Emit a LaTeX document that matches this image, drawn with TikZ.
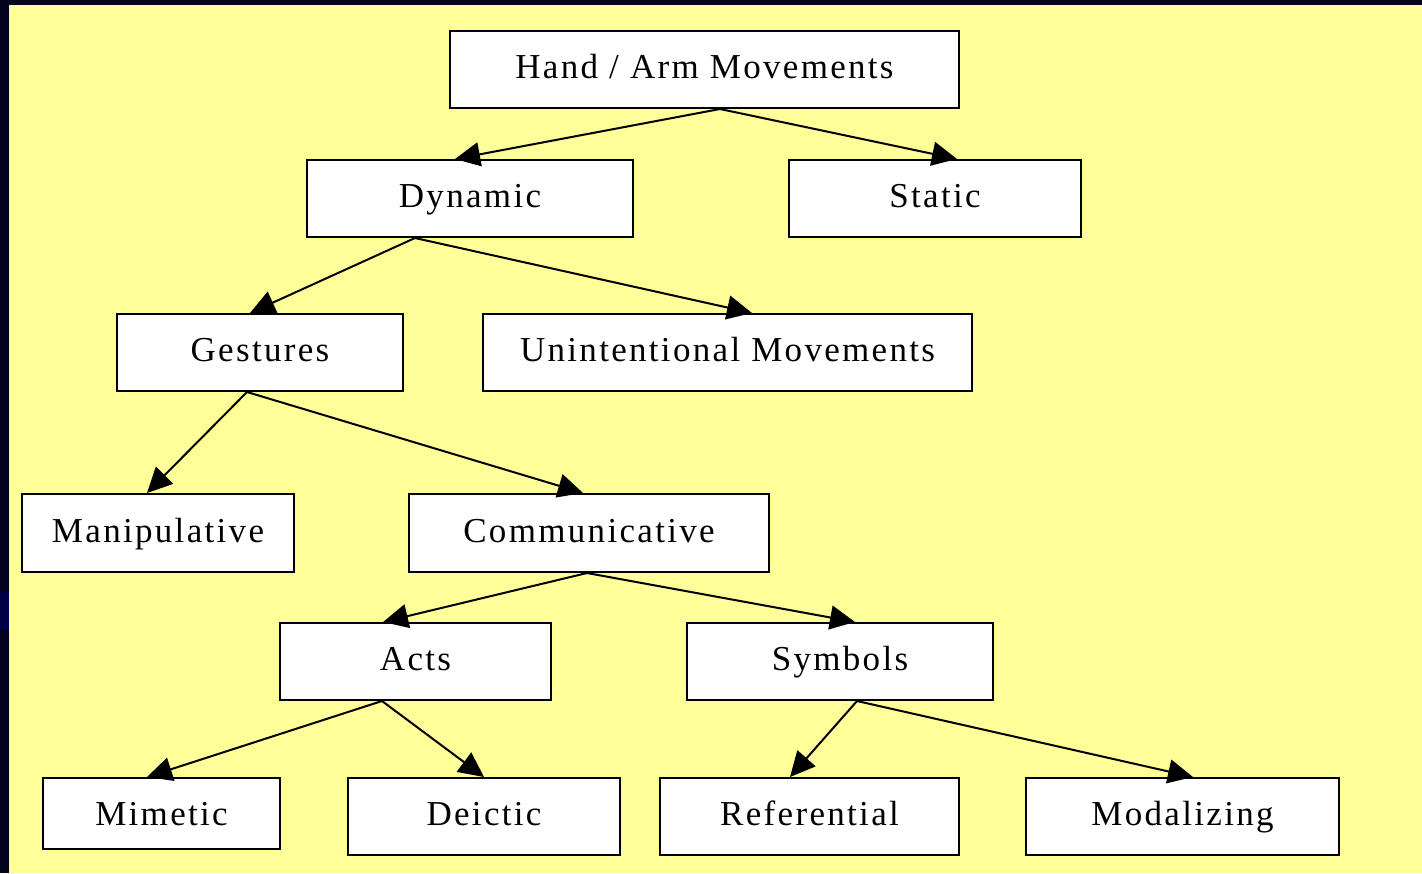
\documentclass[tikz,border=0pt]{standalone}
\usepackage{fontspec}
\setmainfont{Liberation Serif}[LetterSpace=6.6]
\usetikzlibrary{arrows.meta}
\definecolor{pad}{HTML}{FFFF99}
\definecolor{frame}{HTML}{03031C}
\definecolor{patch}{HTML}{000048}

\begin{document}
\begin{tikzpicture}[
  x=0.5pt, y=-0.5pt,
  font=\fontsize{17.5pt}{21pt}\selectfont,
  >={Triangle[length=12.5pt,width=12pt]},
  item/.style={draw, line width=1pt, fill=white, minimum height=38.5pt, inner sep=0pt,
    text height=1em, text depth=0.08em},
  link/.style={->, line width=1pt}
  ]
  % slide background
  \fill[frame] (0,0) rectangle (1422,873);
  \fill[patch] (0,592) rectangle (9,630);
  \fill[pad] (9,5) rectangle (1422,873);
  \useasboundingbox (0,0) rectangle (1422,873);

  % top levels
  \node[item, minimum width=254.5pt] (hand) at (704.5,69.5) {Hand / Arm Movements};
  \node[item, minimum width=163pt] (dyn) at (470,198.5) {Dynamic};
  \node[item, minimum width=146pt] (stat) at (935,198.5) {Static};
  \node[item, minimum width=143pt] (gest) at (260,352.5) {Gestures};
  \node[item, minimum width=244.5pt] (unint) at (727.5,352.5) {Unintentional Movements};
  % gesture kinds
  \node[item, minimum width=136pt, minimum height=39pt] (manip) at (158,533) {Manipulative};
  \node[item, minimum width=180pt, minimum height=39pt] (comm) at (589,533) {Communicative};
  \node[item, minimum width=135.5pt] (acts) at (415.5,661.5) {Acts};
  \node[item, minimum width=153pt] (sym) at (840,661.5) {Symbols};
  % leaves
  \node[item, minimum width=118.5pt, minimum height=35.5pt,
    text height=1em+1.5pt, text depth=0.08em-1.5pt] (mim) at (161.5,813.5) {Mimetic};
  \node[item, minimum width=136pt] (deic) at (484,816.5) {Deictic};
  \node[item, minimum width=149.5pt] (ref) at (809.5,816.5) {Referential};
  \node[item, minimum width=156.5pt] (mod) at (1182.5,816.5) {Modalizing};

  % edges
  \draw[link] ([xshift=7.75pt]hand.south) -- ([xshift=-7.5pt]dyn.north);
  \draw[link] ([xshift=7.75pt]hand.south) -- ([xshift=11pt]stat.north);
  \draw[link] ([xshift=-27.5pt]dyn.south) -- ([xshift=-5pt]gest.north);
  \draw[link] ([xshift=-27.5pt]dyn.south) -- ([xshift=12.25pt]unint.north);
  \draw[link] ([xshift=-6.5pt]gest.south) -- ([xshift=-5.5pt]manip.north);
  \draw[link] ([xshift=-6.5pt]gest.south) -- ([xshift=-3pt]comm.north);
  \draw[link] ([xshift=-1pt]comm.south) -- ([xshift=-16.25pt]acts.north);
  \draw[link] ([xshift=-1pt]comm.south) -- ([xshift=7.5pt]sym.north);
  \draw[link] ([xshift=-16.75pt]acts.south) -- ([xshift=-7.25pt]mim.north);
  \draw[link] ([xshift=-16.75pt]acts.south) -- (deic.north);
  \draw[link] ([xshift=8.5pt]sym.south) -- ([xshift=-9.75pt]ref.north);
  \draw[link] ([xshift=8.5pt]sym.south) -- ([xshift=5.25pt]mod.north);
\end{tikzpicture}
\end{document}
